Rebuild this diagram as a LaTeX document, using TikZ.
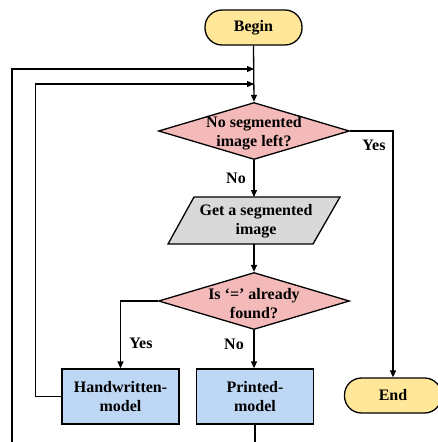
\documentclass[tikz,border=0pt]{standalone}
\usepackage{fontspec}
\setmainfont{Liberation Serif}
\usetikzlibrary{shapes.geometric,arrows.meta}
\definecolor{termfill}{HTML}{FFE699}
\definecolor{decfill}{HTML}{F4B9B9}
\definecolor{iofill}{HTML}{D9D9D9}
\definecolor{procfill}{HTML}{BDD7F5}
\begin{document}
\begin{tikzpicture}[x=1pt,y=-1pt,
  every node/.style={font=\bfseries\fontsize{16}{19}\selectfont, align=center},
  line/.style={line width=1.3pt, draw=black},
  arr/.style={line, -{Triangle[length=7pt,width=6pt]}},
  term/.style={line, fill=termfill, rectangle, rounded corners=17pt, minimum width=97pt, minimum height=35pt, inner sep=0pt},
  dec/.style={line, fill=decfill, diamond, minimum width=191pt, minimum height=57pt, inner sep=0pt},
  proc/.style={line, fill=procfill, rectangle, minimum width=117pt, minimum height=55pt, inner sep=0pt},
  lab/.style={inner sep=0pt}
]
\useasboundingbox (0,0) rectangle (437,442);
\node[term] (begin) at (253.5,27.5) {Begin};
\node[term] (end) at (393,395.5) {End};
\node[dec] (d1) at (254,131) {};
\node[lab] (t1) at (254,133) {No segmented\\image left?};
% parallelogram
\coordinate (ptop) at (254,197);
\coordinate (pbot) at (254,244);
\draw[line, fill=iofill] (194,197) -- (340,197) -- (313,244) -- (168,244) -- cycle;
\node[lab] (ptxt) at (256,221) {Get a segmented\\image};
\node[dec] (d2) at (254,301) {};
\node[lab] (t2) at (254,304) {Is ‘=’ already\\found?};
\node[proc] (hw) at (120.5,396.5) {Handwritten-\\model};
\node[proc] (pr) at (255,396.5) {Printed-\\model};
\coordinate (m1) at (254,69);
\coordinate (m2) at (254,84);
\coordinate (ob) at (12,442);
\coordinate (prb) at (pr.south |- 0,442);

\draw[arr] (begin.south) -- (d1.north);
\draw[arr] (ob) |- (m1);
\draw[arr] (hw.west) -- ++(-26,0) |- (m2);
\draw[arr] (d1.east) -| (end.north);
\draw[arr] (d1.south) -- (ptop);
\draw[arr] (pbot) -- (d2.north);
\draw[arr] (d2.west) -| (hw.north);
\draw[arr] (d2.south) -- (d2.south |- pr.north);
\draw[line] (pr.south) -- (prb);

\node[lab] (y1) at (374,145) {Yes};
\node[lab] (n1) at (236,178) {No};
\node[lab] (y2) at (141,343) {Yes};
\node[lab] (n2) at (234,344) {No};
\end{tikzpicture}
\end{document}
